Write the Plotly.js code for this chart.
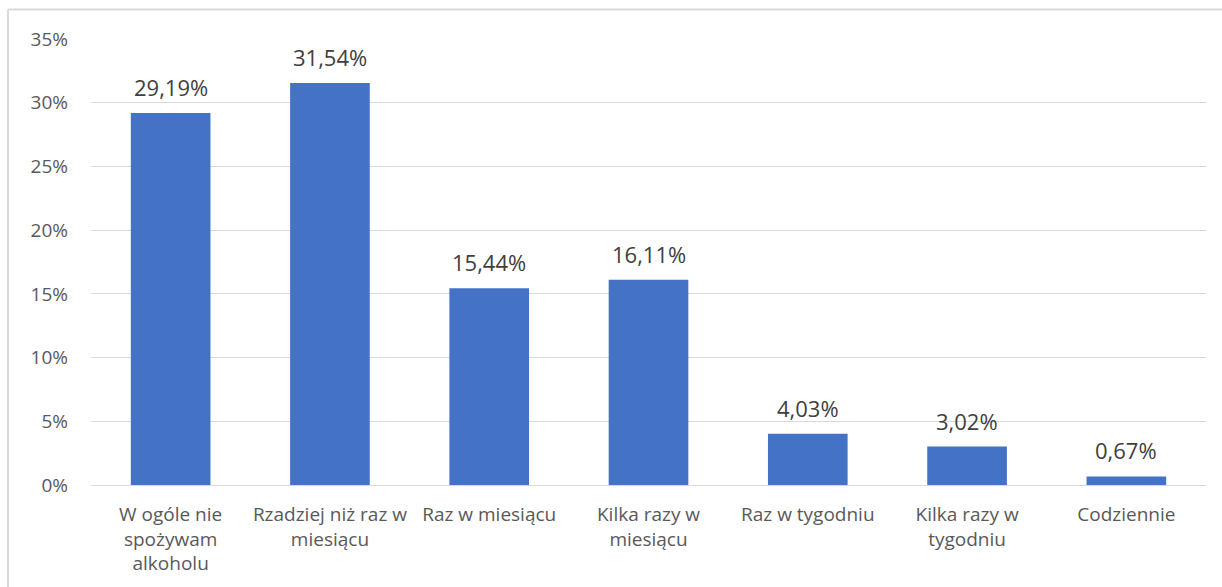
<!DOCTYPE html>
<html>
<head>
<meta charset="utf-8">
<script src="https://cdn.plot.ly/plotly-3.0.1.min.js"></script>
<style>
html,body{margin:0;padding:0;background:#fff;}
#chart{width:1222px;height:587px;}
</style>
</head>
<body>
<div id="chart"></div>
<script>
const categories = [
  "W ogóle nie<br>spożywam<br>alkoholu",
  "Rzadziej niż raz w<br>miesiącu",
  "Raz w miesiącu",
  "Kilka razy w<br>miesiącu",
  "Raz w tygodniu",
  "Kilka razy w<br>tygodniu",
  "Codziennie"
];
const values = [29.19, 31.54, 15.44, 16.11, 4.03, 3.02, 0.67];
const yTickVals = [0, 5, 10, 15, 20, 25, 30, 35];
const yTickText = ["0%", "5%", "10%", "15%", "20%", "25%", "30%", "35%"];

const labels = values.map(v => v.toFixed(2).replace('.', ',') + '%');
const FONT = '"Open Sans", "Noto Sans", sans-serif';

const trace = {
  type: 'bar',
  x: categories,
  y: values,
  marker: {color: '#4472C4'},
  hoverinfo: 'none'
};

const annotations = categories.map((c, i) => ({
  x: c, y: values[i], xref: 'x', yref: 'y',
  text: labels[i],
  showarrow: false,
  yanchor: 'bottom',
  yshift: 9,
  font: {family: FONT, size: 22, color: '#404040'}
}));

const L = 91, R = 1206, T = 39, B = 485;
const W = R - L, H = B - T;
const px = p => (p - L) / W;
const py = p => (B - p) / H;

const layout = {
  width: 1222, height: 587,
  margin: {l: L, r: 1222 - R, t: T, b: 587 - B, pad: 0},
  paper_bgcolor: '#ffffff',
  plot_bgcolor: '#ffffff',
  font: {family: FONT, size: 19, color: '#595959'},
  showlegend: false,
  bargap: 0.5,
  xaxis: {
    showgrid: false,
    showline: false,
    zeroline: false,
    ticks: '',
    tickangle: 0,
    ticklabelstandoff: 16,
    tickfont: {family: FONT, size: 19, color: '#595959'}
  },
  yaxis: {
    range: [0, 35],
    tickvals: yTickVals,
    ticktext: yTickText,
    showgrid: true,
    gridcolor: '#d9d9d9',
    gridwidth: 1,
    zeroline: true,
    zerolinecolor: '#d9d9d9',
    zerolinewidth: 1,
    showline: false,
    ticks: '',
    ticklabelstandoff: 22,
    tickfont: {family: FONT, size: 19, color: '#595959'}
  },
  annotations: annotations,
  shapes: [
    {type: 'line', xref: 'paper', yref: 'paper', x0: px(8), x1: px(1222), y0: py(9.5), y1: py(9.5),
     line: {color: '#d9d9d9', width: 2}},
    {type: 'line', xref: 'paper', yref: 'paper', x0: px(8), x1: px(8), y0: py(9.5), y1: py(587),
     line: {color: '#d9d9d9', width: 2}}
  ]
};

Plotly.newPlot('chart', [trace], layout, {displayModeBar: false, staticPlot: true});
</script>
</body>
</html>
